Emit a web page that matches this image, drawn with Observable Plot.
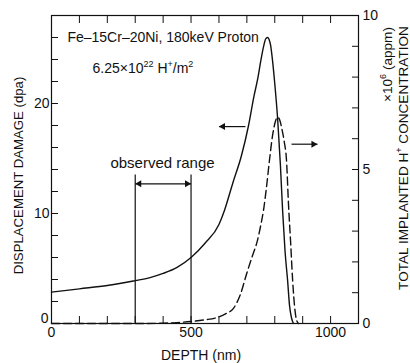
<!DOCTYPE html>
<html>
<head>
<meta charset="utf-8">
<script src="https://cdn.jsdelivr.net/npm/d3@7"></script>
<script src="https://cdn.jsdelivr.net/npm/@observablehq/plot@0.6"></script>
<style>
  body { margin: 0; background: #fff; }
  svg { display: block; }
</style>
</head>
<body>
<div id="chart"></div>
<script>
// Displacement damage profile (dpa) vs depth (nm)
const damageDepth = [0, 100, 200, 300, 350, 400, 450, 500, 550, 600, 620, 650, 680, 706, 725, 740, 750, 760, 768, 775, 780, 785, 792, 800, 810, 820, 828, 837, 846, 853, 860, 867];
const damageDpa   = [2.85, 3.15, 3.45, 3.9, 4.15, 4.55, 5.1, 6.0, 7.3, 9.0, 10.3, 12.8, 15.2, 18.0, 20.6, 22.4, 23.9, 25.2, 25.9, 26.0, 25.8, 25.3, 23.9, 21.8, 18.7, 14.5, 10.3, 6.5, 3.9, 1.6, 0.5, 0];

// Total implanted H+ concentration (x10^6 appm) vs depth (nm)
const hydrogenDepth = [0, 300, 400, 450, 500, 550, 595, 625, 652, 675, 702, 720, 738, 750, 760, 770, 781, 792, 802, 810, 818, 826, 834, 842, 849, 857, 864, 871, 877, 885];
const hydrogenConc  = [0, 0, 0.01, 0.03, 0.065, 0.12, 0.2, 0.32, 0.49, 0.9, 1.7, 2.2, 2.7, 3.2, 3.7, 4.4, 5.3, 6.1, 6.55, 6.7, 6.6, 6.3, 5.9, 5.3, 3.9, 2.6, 1.4, 0.55, 0.15, 0];

const depthTicks = [0, 500, 1000];
const dpaTicks = [0, 10, 20];
const concTicks = [0, 5, 10];
const observedRange = [300, 500];

const DPA_MAX = 28, CONC_MAX = 10;
const k = DPA_MAX / CONC_MAX; // right-axis units -> left-axis units

const damage = damageDepth.map((d, i) => ({depth: d, value: damageDpa[i]}));
const hydrogen = hydrogenDepth.map((d, i) => ({depth: d, value: hydrogenConc[i] * k}));

const ink = "#111";
const font = "'Liberation Sans', Arial, sans-serif";

const chart = Plot.plot({
  width: 410,
  height: 363,
  marginLeft: 51,
  marginRight: 52,
  marginTop: 15,
  marginBottom: 40,
  style: {fontFamily: font, fontSize: "14px", color: ink, background: "#fff"},
  x: {domain: [0, 1100]},
  y: {domain: [0, DPA_MAX]},
  marks: [
    Plot.frame({stroke: ink, strokeWidth: 1.2}),
    // inward ticks on all four sides
    Plot.axisX({anchor: "bottom", ticks: d3.range(0, 1101, 100), tickSize: -7, tickPadding: 11,
      tickFormat: d => depthTicks.includes(d) ? String(d) : "", label: null, stroke: ink, fontSize: 14}),
    Plot.axisX({anchor: "top", ticks: d3.range(0, 1101, 100), tickSize: -7,
      tickFormat: () => "", label: null, stroke: ink}),
    Plot.axisY({anchor: "left", ticks: d3.range(0, DPA_MAX + 1, 2), tickSize: -7, tickPadding: 9,
      tickFormat: d => dpaTicks.includes(d) && d !== 0 ? String(d) : "", label: null, stroke: ink, fontSize: 14}),
    // the origin label sits a little above the corner
    Plot.axisY({anchor: "left", ticks: [0], tickSize: 0, tickPadding: 3, dy: -5,
      tickFormat: d => String(d), label: null, fontSize: 14}),
    Plot.axisY({anchor: "right", ticks: d3.range(0, CONC_MAX + 1).map(v => v * k), tickSize: -7, tickPadding: 11,
      tickFormat: d => { const v = Math.round(d / k); return concTicks.includes(v) ? String(v) : ""; },
      label: null, stroke: ink, fontSize: 14}),

    // profiles
    Plot.line(damage, {x: "depth", y: "value", curve: "monotone-x", stroke: ink, strokeWidth: 1.4}),
    Plot.line(hydrogen, {x: "depth", y: "value", curve: "monotone-x", stroke: ink, strokeWidth: 1.4, strokeDasharray: "8,4"}),

    // observed range bracket
    Plot.ruleX(observedRange, {y1: 0, y2: 13.5, stroke: ink, strokeWidth: 1.2}),
    Plot.link([observedRange], {x1: d => d[0], x2: d => d[1], y1: 12.7, y2: 12.7, stroke: ink, strokeWidth: 1.2}),
    Plot.dot([observedRange[0]], {x: d => d, y: 12.7, symbol: "triangle", rotate: -90, r: 2.6, fill: ink, dx: 4}),
    Plot.dot([observedRange[1]], {x: d => d, y: 12.7, symbol: "triangle", rotate: 90, r: 2.6, fill: ink, dx: -4}),
    Plot.text(["observed range"], {x: 211, y: 14.6, textAnchor: "start", fontSize: 15, fill: ink}),

    // arrows pointing to each curve's axis
    Plot.link([[695, 600]], {x1: d => d[0], x2: d => d[1], y1: 17.9, y2: 17.9, stroke: ink, strokeWidth: 1.2}),
    Plot.dot([600], {x: d => d, y: 17.9, symbol: "triangle", rotate: -90, r: 2.6, fill: ink, dx: 4}),
    Plot.link([[860, 953]], {x1: d => d[0], x2: d => d[1], y1: 16.3, y2: 16.3, stroke: ink, strokeWidth: 1.2}),
    Plot.dot([953], {x: d => d, y: 16.3, symbol: "triangle", rotate: 90, r: 2.6, fill: ink, dx: -4}),

    // annotations
    Plot.text(["Fe–15Cr–20Ni, 180keV Proton"], {x: 57, y: 26.0, textAnchor: "start", fontSize: 14, fill: ink}),
    Plot.text(["6.25×10^{22} H^{+}/m^{2}"], {x: 147, y: 23.2, textAnchor: "start", fontSize: 14, fill: ink}),

    // axis titles
    Plot.text(["DEPTH (nm)"], {frameAnchor: "bottom", dy: 36, dx: -4, fontSize: 14, fill: ink}),
    Plot.text(["DISPLACEMENT DAMAGE (dpa)"], {frameAnchor: "left", textAnchor: "middle", dx: -33, dy: 6, rotate: -90, fontSize: 13.2, fill: ink}),
    Plot.text(["TOTAL IMPLANTED H^{+} CONCENTRATION"], {frameAnchor: "right", textAnchor: "middle", dx: 45, dy: -11.5, rotate: -90, fontSize: 13.6, fill: ink}),
    Plot.text(["×10^{6} (appm)"], {frameAnchor: "right", textAnchor: "middle", dx: 29, dy: -105, rotate: -90, fontSize: 13.6, fill: ink})
  ]
});

// turn ^{...} markup into raised, smaller tspans
d3.select(chart).selectAll("text").each(function () {
  const s = this.textContent;
  if (!s.includes("^{")) return;
  const el = d3.select(this);
  el.text(null);
  const parts = s.split(/(\^\{[^}]*\})/);
  let raised = false;
  for (const p of parts) {
    if (!p) continue;
    const m = p.match(/^\^\{([^}]*)\}$/);
    if (m) {
      el.append("tspan").attr("font-size", 9).attr("dy", raised ? 0 : -6).text(m[1]);
      raised = true;
    } else {
      el.append("tspan").attr("dy", raised ? 6 : 0).text(p);
      raised = false;
    }
  }
});

document.getElementById("chart").appendChild(chart);
</script>
</body>
</html>
